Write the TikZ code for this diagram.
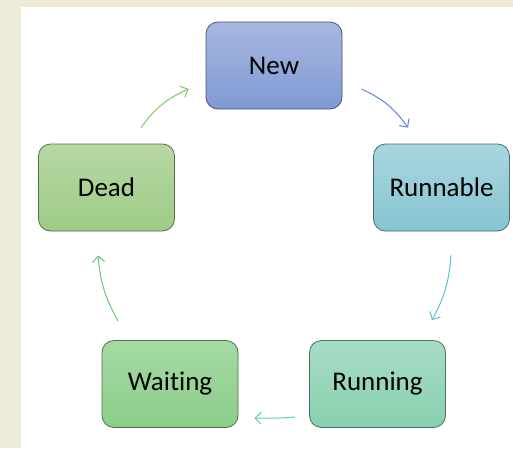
\documentclass[tikz,border=0pt]{standalone}
\usepackage{fontspec}
\setmainfont{Carlito}[Ligatures=NoCommon]
\usetikzlibrary{arrows.meta}

\definecolor{newtop}{HTML}{A8B7E0}
\definecolor{newbot}{HTML}{8099D4}
\definecolor{runtop}{HTML}{A8D6DF}
\definecolor{runbot}{HTML}{86C5D1}
\definecolor{deadtop}{HTML}{B6D8A3}
\definecolor{deadbot}{HTML}{9FCB87}
\definecolor{waittop}{HTML}{A6D9A4}
\definecolor{waitbot}{HTML}{8ACE89}
\definecolor{rngtop}{HTML}{A7DDC5}
\definecolor{rngbot}{HTML}{88CFAF}
\definecolor{page}{HTML}{EEEBD8}
\definecolor{arrblue}{HTML}{5B85D6}
\definecolor{arrcyan}{HTML}{5EC0D5}
\definecolor{arrteal}{HTML}{66CDA5}
\definecolor{arrgreen}{HTML}{6BC873}
\definecolor{arrlime}{HTML}{83C76C}

\begin{document}
\begin{tikzpicture}[x=1pt, y=-1pt,
  state/.style={draw=#1bot!55!black, line width=0.8pt, rounded corners=12pt,
    top color=#1top, bottom color=#1bot, minimum width=136pt, minimum height=87pt,
    font=\fontsize{27}{30}\selectfont},
  conn/.style={draw=#1, line width=1pt, -{Straight Barb[length=6pt,width=12pt]}}]
\useasboundingbox (0,0) rectangle (513,448);
\fill[page] (0,0) rectangle (513,448);
\fill[white] (21,7) rectangle (520,455);
\node[state=new] (new) at (274,65.5) {New};
\node[state=run] (run) at (441.5,187.5) {Runnable};
\node[state=rng] (rng) at (377.5,384) {Running};
\node[state=wait] (wait) at (170,384) {Waiting};
\node[state=dead] (dead) at (106.5,187.5) {Dead};
\draw[conn=arrblue] ([shift={(19,23.5)}]new.east) to[bend left=15] ([shift={(-33.5,-16)}]run.north);
\draw[conn=arrcyan] ([shift={(9.5,24)}]run.south) to[bend left=12] ([shift={(54.5,-20)}]rng.north);
\draw[conn=arrteal] ([shift={(-14,33)}]rng.west) to[bend left=3] ([shift={(16,34)}]wait.east);
\draw[conn=arrgreen] ([shift={(-52,-19)}]wait.north) to[bend left=12] ([shift={(-8.5,24)}]dead.south);
\draw[conn=arrlime] ([shift={(34.5,-16)}]dead.north) to[bend left=15] ([shift={(-17,23.5)}]new.west);
\end{tikzpicture}
\end{document}
